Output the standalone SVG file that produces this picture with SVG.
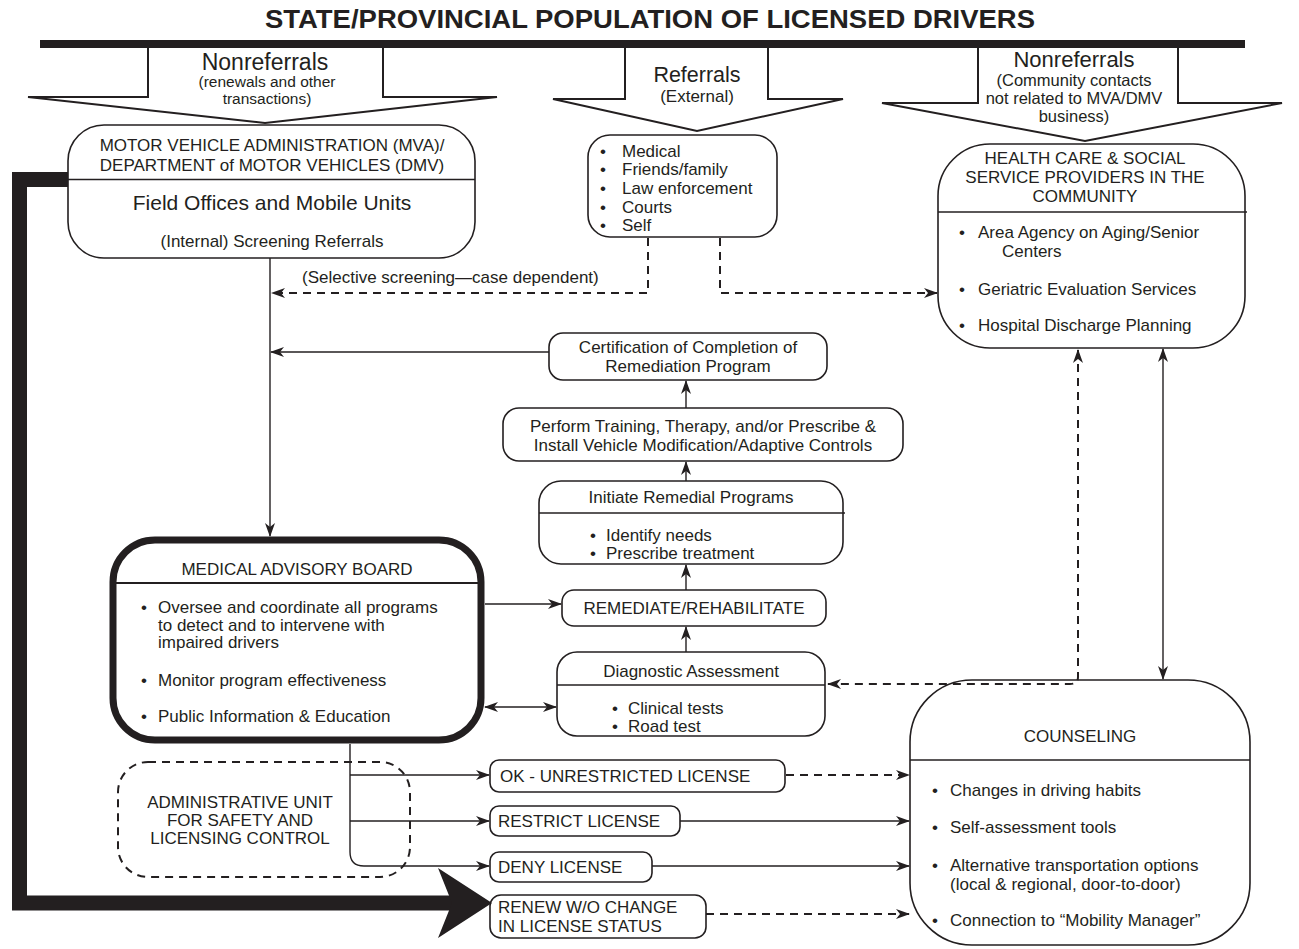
<svg xmlns="http://www.w3.org/2000/svg" width="1299" height="949" viewBox="0 0 1299 949">
<style>
text{font-family:"Liberation Sans",Arial,sans-serif;fill:#231f20}
.t{font-size:17px}
.s{font-size:15.5px}
.c{text-anchor:middle}
.box{fill:#fff;stroke:#231f20;stroke-width:1.6}
.sep{stroke:#231f20;stroke-width:1.6}
.blk{fill:#fff;stroke:#231f20;stroke-width:2}
.ln{fill:none;stroke:#231f20;stroke-width:1.4}
.dash{fill:none;stroke:#231f20;stroke-width:2;stroke-dasharray:8 6}
</style>
<defs>
<marker id="ah" viewBox="0 0 14 10" refX="13" refY="5" markerWidth="14" markerHeight="10" orient="auto-start-reverse" markerUnits="userSpaceOnUse">
<path d="M0,0 L14,5 L0,10 L4,5 z" fill="#231f20"/>
</marker>
</defs>
<rect width="1299" height="949" fill="#fff"/>

<text x="650" y="28" class="c" style="font-size:25px;font-weight:bold" textLength="770" lengthAdjust="spacingAndGlyphs">STATE/PROVINCIAL POPULATION OF LICENSED DRIVERS</text>

<g id="arrow-nonreferrals-left">
<polygon class="blk" points="148,44 148,97 28,97 265,123 497,97 383,97 383,44"/>
<text x="265" y="70" class="c" style="font-size:23px">Nonreferrals</text>
<text x="267" y="87" class="c s">(renewals and other</text>
<text x="267" y="104" class="c s">transactions)</text>
</g>
<g id="arrow-referrals">
<polygon class="blk" points="625,44 625,99 553,99 697,131 843,99 768,99 768,44"/>
<text x="697" y="82" class="c" style="font-size:21.5px">Referrals</text>
<text x="697" y="102" class="c" style="font-size:17px">(External)</text>
</g>
<g id="arrow-nonreferrals-right">
<polygon class="blk" points="978,44 978,103 882,103 1085,141 1282,103 1178,103 1178,44"/>
<text x="1074" y="67" class="c" style="font-size:22px">Nonreferrals</text>
<text x="1074" y="86" class="c" style="font-size:16.5px">(Community contacts</text>
<text x="1074" y="104" class="c" style="font-size:16.5px">not related to MVA/DMV</text>
<text x="1074" y="122" class="c" style="font-size:16.5px">business)</text>
</g>
<rect id="population-bar" x="40" y="40" width="1205" height="8" fill="#231f20"/>

<g id="mva">
<rect class="box" x="68" y="125" width="407" height="133" rx="36"/>
<line class="sep" x1="68" y1="179.5" x2="475" y2="179.5"/>
<text x="272" y="151" class="c t">MOTOR VEHICLE ADMINISTRATION (MVA)/</text>
<text x="272" y="171" class="c t">DEPARTMENT of MOTOR VEHICLES (DMV)</text>
<text x="272" y="210" class="c" style="font-size:21px">Field Offices and Mobile Units</text>
<text x="272" y="247" class="c t">(Internal) Screening Referrals</text>
</g>

<g id="referrals">
<rect class="box" x="588" y="135" width="189" height="102" rx="22"/>
<text x="600" y="157" class="t">•</text><text x="622" y="157" class="t">Medical</text>
<text x="600" y="175" class="t">•</text><text x="622" y="175" class="t">Friends/family</text>
<text x="600" y="194" class="t">•</text><text x="622" y="194" class="t">Law enforcement</text>
<text x="600" y="213" class="t">•</text><text x="622" y="213" class="t">Courts</text>
<text x="600" y="231" class="t">•</text><text x="622" y="231" class="t">Self</text>
</g>

<g id="health">
<rect class="box" x="938" y="144" width="307" height="204" rx="52"/>
<line class="sep" x1="938" y1="212" x2="1247" y2="212"/>
<text x="1085" y="164" class="c t">HEALTH CARE &amp; SOCIAL</text>
<text x="1085" y="183" class="c t">SERVICE PROVIDERS IN THE</text>
<text x="1085" y="202" class="c t">COMMUNITY</text>
<text x="959" y="238" class="t">•</text><text x="978" y="238" class="t">Area Agency on Aging/Senior</text>
<text x="1002" y="257" class="t">Centers</text>
<text x="959" y="295" class="t">•</text><text x="978" y="295" class="t">Geriatric Evaluation Services</text>
<text x="959" y="331" class="t">•</text><text x="978" y="331" class="t">Hospital Discharge Planning</text>
</g>

<g id="certification">
<rect class="box" x="549" y="333" width="278" height="47" rx="14"/>
<text x="688" y="353" class="c t">Certification of Completion of</text>
<text x="688" y="372" class="c t">Remediation Program</text>
</g>

<g id="perform">
<rect class="box" x="503" y="408" width="400" height="53" rx="16"/>
<text x="703" y="432" class="c t">Perform Training, Therapy, and/or Prescribe &amp;</text>
<text x="703" y="451" class="c t">Install Vehicle Modification/Adaptive Controls</text>
</g>

<g id="initiate">
<rect class="box" x="539" y="481" width="304" height="83" rx="22"/>
<line class="sep" x1="539" y1="513" x2="845" y2="513"/>
<text x="691" y="503" class="c t">Initiate Remedial Programs</text>
<text x="590" y="541" class="t">•</text><text x="606" y="541" class="t">Identify needs</text>
<text x="590" y="559" class="t">•</text><text x="606" y="559" class="t">Prescribe treatment</text>
</g>

<g id="remediate">
<rect class="box" x="562" y="590" width="264" height="36" rx="12"/>
<text x="694" y="614" class="c t">REMEDIATE/REHABILITATE</text>
</g>

<g id="diagnostic">
<rect class="box" x="557" y="652" width="268" height="84" rx="20"/>
<line class="sep" x1="557" y1="685" x2="825" y2="685"/>
<text x="691" y="677" class="c t">Diagnostic Assessment</text>
<text x="612" y="714" class="t">•</text><text x="628" y="714" class="t">Clinical tests</text>
<text x="612" y="732" class="t">•</text><text x="628" y="732" class="t">Road test</text>
</g>

<g id="medical-advisory-board">
<rect x="113" y="540" width="368" height="200" rx="42" fill="#fff" stroke="#231f20" stroke-width="7"/>
<line class="sep" x1="113" y1="583" x2="481" y2="583" style="stroke-width:2"/>
<text x="297" y="575" class="c t">MEDICAL ADVISORY BOARD</text>
<text x="141" y="613" class="t">•</text><text x="158" y="613" class="t">Oversee and coordinate all programs</text>
<text x="158" y="631" class="t">to detect and to intervene with</text>
<text x="158" y="648" class="t">impaired drivers</text>
<text x="141" y="686" class="t">•</text><text x="158" y="686" class="t">Monitor program effectiveness</text>
<text x="141" y="722" class="t">•</text><text x="158" y="722" class="t">Public Information &amp; Education</text>
</g>

<g id="admin-unit">
<rect x="118" y="762" width="292" height="115" rx="30" fill="none" stroke="#231f20" stroke-width="2" stroke-dasharray="8 6"/>
<text x="240" y="808" class="c t">ADMINISTRATIVE UNIT</text>
<text x="240" y="826" class="c t">FOR SAFETY AND</text>
<text x="240" y="844" class="c t">LICENSING CONTROL</text>
</g>

<g id="ok-license">
<rect class="box" x="490" y="760" width="295" height="32" rx="9"/>
<text x="500" y="782" class="t">OK - UNRESTRICTED LICENSE</text>
</g>
<g id="restrict-license">
<rect class="box" x="490" y="806" width="190" height="30" rx="9"/>
<text x="498" y="827" class="t">RESTRICT LICENSE</text>
</g>
<g id="deny-license">
<rect class="box" x="490" y="852" width="162" height="30" rx="9"/>
<text x="498" y="873" class="t">DENY LICENSE</text>
</g>
<g id="renew-license">
<rect class="box" x="490" y="895" width="216" height="43" rx="11"/>
<text x="498" y="913" class="t">RENEW W/O CHANGE</text>
<text x="498" y="932" class="t">IN LICENSE STATUS</text>
</g>

<g id="counseling">
<rect class="box" x="910" y="680" width="340" height="265" rx="62"/>
<line class="sep" x1="910" y1="760" x2="1250" y2="760"/>
<text x="1080" y="742" class="c t">COUNSELING</text>
<text x="932" y="796" class="t">•</text><text x="950" y="796" class="t">Changes in driving habits</text>
<text x="932" y="833" class="t">•</text><text x="950" y="833" class="t">Self-assessment tools</text>
<text x="932" y="871" class="t">•</text><text x="950" y="871" class="t">Alternative transportation options</text>
<text x="950" y="890" class="t">(local &amp; regional, door-to-door)</text>
<text x="932" y="926" class="t">•</text><text x="950" y="926" class="t">Connection to “Mobility Manager”</text>
</g>

<g id="connectors">
<path d="M68,179.5 H19.5 V903 H452" fill="none" stroke="#231f20" stroke-width="15"/>
<polygon points="438,868 492,903 438,938 452,903" fill="#231f20"/>
<text x="302" y="283" class="t">(Selective screening—case dependent)</text>
<line class="ln" x1="270" y1="258" x2="270" y2="536" marker-end="url(#ah)"/>
<line class="ln" x1="549" y1="352" x2="271" y2="352" marker-end="url(#ah)"/>
<path class="dash" d="M648,238 V293 H272" marker-end="url(#ah)"/>
<path class="dash" d="M720,238 V293 H937" marker-end="url(#ah)"/>
<line class="ln" x1="686" y1="408" x2="686" y2="381" marker-end="url(#ah)"/>
<line class="ln" x1="686" y1="481" x2="686" y2="462" marker-end="url(#ah)"/>
<line class="ln" x1="686" y1="590" x2="686" y2="565" marker-end="url(#ah)"/>
<line class="ln" x1="686" y1="652" x2="686" y2="627" marker-end="url(#ah)"/>
<line class="ln" x1="485" y1="604" x2="561" y2="604" marker-end="url(#ah)"/>
<line class="ln" x1="485" y1="707" x2="556" y2="707" marker-start="url(#ah)" marker-end="url(#ah)"/>
<path class="dash" d="M1078,350 V677 Q1078,684 1070,684 H828" marker-start="url(#ah)" marker-end="url(#ah)"/>
<line class="ln" x1="1163" y1="349" x2="1163" y2="679" marker-start="url(#ah)" marker-end="url(#ah)"/>
<path class="ln" d="M350,744 V852 Q350,866 364,866 H489" marker-end="url(#ah)"/>
<line class="ln" x1="350" y1="775" x2="489" y2="775" marker-end="url(#ah)"/>
<line class="ln" x1="350" y1="821" x2="489" y2="821" marker-end="url(#ah)"/>
<line class="dash" x1="786" y1="775" x2="909" y2="775" marker-end="url(#ah)"/>
<line class="ln" x1="680" y1="821" x2="909" y2="821" marker-end="url(#ah)"/>
<line class="ln" x1="652" y1="866" x2="909" y2="866" marker-end="url(#ah)"/>
<line class="dash" x1="706" y1="914" x2="909" y2="914" marker-end="url(#ah)"/>
</g>
</svg>
